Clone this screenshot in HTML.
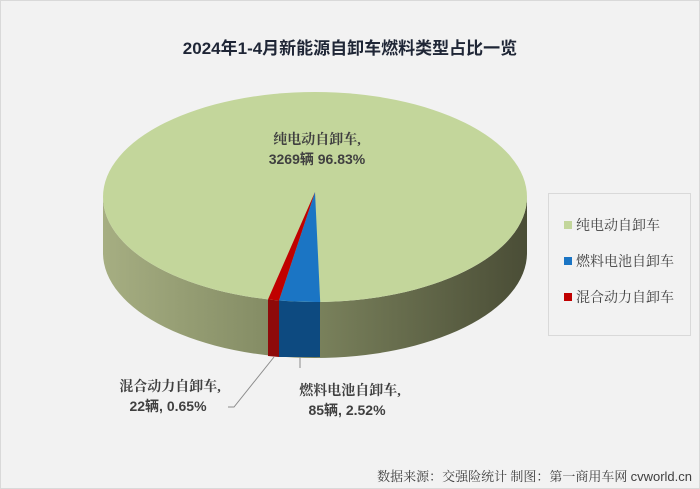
<!DOCTYPE html>
<html><head><meta charset="utf-8"><style>
body{margin:0;background:#fff;}
svg{display:block;}
</style></head><body>
<svg width="700" height="489" viewBox="0 0 700 489" xmlns="http://www.w3.org/2000/svg">
<defs>
<linearGradient id="side" x1="0" x2="1" y1="0" y2="0">
<stop offset="0" stop-color="#a6ae82"/>
<stop offset="0.45" stop-color="#7f8760"/>
<stop offset="1" stop-color="#4a4d36"/>
</linearGradient>
</defs>
<rect x="0.5" y="0.5" width="699" height="488" fill="#f2f2f2" stroke="#d9d9d9"/>
<text x="350" y="54" text-anchor="middle" font-family="Liberation Sans, Noto Sans CJK SC, sans-serif" font-size="17" font-weight="bold" fill="#1f2636">2024年1-4月新能源自卸车燃料类型占比一览</text>
<path d="M103,197 A212,105 0 0 0 527,197 L527,253 A212,105 0 0 1 103,253 Z" fill="url(#side)"/>
<rect x="279" y="298" width="41" height="59" fill="#0d4a80"/>
<path d="M268,299.4 L279,300.5 L279,357 L268,356 Z" fill="#8e0a0a"/>
<ellipse cx="315" cy="197" rx="212" ry="105" fill="#c3d69b"/>
<path d="M315,192 L320.2,302 A212,105 0 0 1 279,300.5 Z" fill="#1b75c4"/>
<path d="M315,192 L279,300.5 A212,105 0 0 1 268,299.4 Z" fill="#c00000"/>
<g font-family="Liberation Serif, Noto Serif CJK SC, serif" font-size="14" font-weight="bold" fill="#404040" text-anchor="middle">
<text x="317" y="144">纯电动自卸车,</text>
<text x="170" y="391">混合动力自卸车,</text>
<text x="350" y="395">燃料电池自卸车,</text>
</g>
<g font-family="Liberation Sans, Noto Sans CJK SC, sans-serif" font-size="14" font-weight="bold" fill="#404040" text-anchor="middle">
<text x="317" y="164">3269辆 96.83%</text>
<text x="168" y="411">22辆, 0.65%</text>
<text x="347" y="415">85辆, 2.52%</text>
</g>
<polyline points="274,357 234,407 228,407" fill="none" stroke="#8c8c8c" stroke-width="1"/>
<line x1="300" y1="357" x2="300" y2="368" stroke="#8c8c8c"/>
<rect x="548.5" y="193.5" width="142" height="142" fill="#f2f2f2" stroke="#d9d9d9"/>
<rect x="564" y="221" width="8" height="8" fill="#c3d69b"/>
<rect x="564" y="257" width="8" height="8" fill="#1b75c4"/>
<rect x="564" y="293" width="8" height="8" fill="#c00000"/>
<g font-family="Liberation Serif, Noto Serif CJK SC, serif" font-size="14" fill="#404040">
<text x="576" y="230">纯电动自卸车</text>
<text x="576" y="266">燃料电池自卸车</text>
<text x="576" y="302">混合动力自卸车</text>
</g>
<text x="692" y="481" text-anchor="end" font-family="Liberation Serif, Noto Serif CJK SC, serif" font-size="13" fill="#404040">数据来源：交强险统计 制图：第一商用车网 <tspan font-family="Liberation Sans, sans-serif">cvworld.cn</tspan></text>
</svg>
</body></html>
